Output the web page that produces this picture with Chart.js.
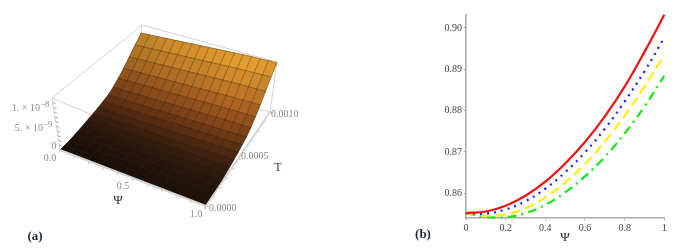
<!DOCTYPE html>
<html>
<head>
<meta charset="utf-8">
<script src="https://cdn.jsdelivr.net/npm/chart.js@4"></script>
<style>
  body { margin: 0; background: #fff; }
  canvas { position: absolute; top: 0; filter: blur(0.35px); }
  #surface { left: 0; }
  #curves { left: 400px; }
</style>
</head>
<body>
<canvas id="surface" width="340" height="248"></canvas>
<canvas id="curves" width="279" height="248"></canvas>
<script>
// panel (b) values
const psiValues = [0, 0.1, 0.2, 0.3, 0.4, 0.5, 0.6, 0.7, 0.8, 0.9, 1];
const redValues = [0.8552, 0.8556, 0.8570, 0.8594, 0.8628, 0.8672, 0.8724, 0.8786, 0.8858, 0.8942, 0.9032];
const blueValues = [0.8552, 0.8551, 0.8561, 0.8581, 0.8611, 0.8651, 0.8699, 0.8756, 0.8822, 0.8895, 0.8977];
const yellowValues = [0.8552, 0.8546, 0.8549, 0.8564, 0.8590, 0.8626, 0.8671, 0.8725, 0.8788, 0.8858, 0.8935];
const greenValues = [0.8552, 0.8543, 0.8542, 0.8552, 0.8572, 0.8602, 0.8641, 0.8688, 0.8745, 0.8810, 0.8884];
const curveYTicks = [0.86, 0.87, 0.88, 0.89, 0.90];
const curveXTicks = [0, 0.2, 0.4, 0.6, 0.8, 1];

// panel (a) surface, z in units of 1e-8
const psiGrid = [0, 0.0625, 0.125, 0.1875, 0.25, 0.3125, 0.375, 0.4375, 0.5, 0.5625, 0.625, 0.6875, 0.75, 0.8125, 0.875, 0.9375, 1];
const tGrid = [0, 0.0000625, 0.000125, 0.0001875, 0.00025, 0.0003125, 0.000375, 0.0004375, 0.0005, 0.0005625, 0.000625, 0.0006875, 0.00075, 0.0008125, 0.000875, 0.0009375, 0.001];
const zByT = [0, 0.004, 0.012, 0.024, 0.045, 0.07, 0.095, 0.12, 0.15, 0.19, 0.23, 0.31, 0.42, 0.55, 0.72, 0.9, 1.08];
const zByPsi = [0.86, 0.87, 0.88, 0.89, 0.9, 0.91, 0.92, 0.93, 0.94, 0.95, 0.96, 0.97, 0.98, 0.99, 0.99, 1, 1];
const rowColors = [[28, 16, 7], [30, 17, 8], [34, 19, 10], [38, 21, 11], [44, 24, 12], [52, 28, 13], [62, 33, 14], [74, 39, 16], [90, 46, 18], [108, 55, 20], [126, 66, 24], [146, 80, 28], [166, 96, 32], [186, 116, 37], [204, 134, 42], [220, 150, 46]];
const colShade = [0.86, 0.88, 0.9, 0.92, 0.94, 0.95, 0.96, 0.97, 0.98, 1, 1.01, 1.03, 1.04, 1.04, 1.02, 1];
const psiTicks = [0, 0.1, 0.2, 0.3, 0.4, 0.5, 0.6, 0.7, 0.8, 0.9, 1];
const tTicks = [0, 0.0001, 0.0002, 0.0003, 0.0004, 0.0005, 0.0006, 0.0007, 0.0008, 0.0009, 0.001];
const zTicks = [0, 0.1, 0.2, 0.3, 0.4, 0.5, 0.6, 0.7, 0.8, 0.9, 1];
const zMax = 1.1;
const tMax = 0.001;

// box corners on the page, [psi][T][z]
const corners = {
  "000": [60, 150], "100": [206, 206], "010": [137, 77], "110": [270, 112],
  "001": [52, 98], "101": [199, 160], "011": [142, 25], "111": [277, 62]
};

function proyectar(psi, t, z) {
  const u = t / tMax, w = z / zMax;
  const punto = { x: 0, y: 0 };
  for (const k in corners) {
    const peso = (k[0] === "1" ? psi : 1 - psi) * (k[1] === "1" ? u : 1 - u) * (k[2] === "1" ? w : 1 - w);
    punto.x += peso * corners[k][0];
    punto.y += peso * corners[k][1];
  }
  return punto;
}

function alturaZ(i, j) {
  return zByT[j] * zByPsi[i];
}

function colorCelda(i, j) {
  const c = rowColors[j].map(v => Math.min(255, Math.round(v * colShade[i])));
  return `rgb(${c[0]},${c[1]},${c[2]})`;
}

function lineaDataset(puntos, color, ancho) {
  return { data: puntos, borderColor: color, borderWidth: ancho, pointRadius: 0, fill: false, tension: 0 };
}

const surfaceDatasets = [];

// front axis edges first so they stay on top
surfaceDatasets.push(lineaDataset([proyectar(0, 0, 0), proyectar(1, 0, 0)], "#d4d4d4", 2));
surfaceDatasets.push(lineaDataset([proyectar(1, 0, 0), proyectar(1, tMax, 0)], "#d4d4d4", 2));

// mesh
tGrid.forEach((t, j) => {
  surfaceDatasets.push(lineaDataset(psiGrid.map((p, i) => proyectar(p, t, alturaZ(i, j))), "rgba(25,12,4,0.4)", 0.8));
});
psiGrid.forEach((p, i) => {
  surfaceDatasets.push(lineaDataset(tGrid.map((t, j) => proyectar(p, t, alturaZ(i, j))), "rgba(25,12,4,0.4)", 0.8));
});

// surface cells
for (let j = 0; j < tGrid.length - 1; j++) {
  for (let i = 0; i < psiGrid.length - 1; i++) {
    const celda = [
      proyectar(psiGrid[i], tGrid[j], alturaZ(i, j)),
      proyectar(psiGrid[i + 1], tGrid[j], alturaZ(i + 1, j)),
      proyectar(psiGrid[i + 1], tGrid[j + 1], alturaZ(i + 1, j + 1)),
      proyectar(psiGrid[i], tGrid[j + 1], alturaZ(i, j + 1)),
      proyectar(psiGrid[i], tGrid[j], alturaZ(i, j))
    ];
    const color = colorCelda(i, j);
    surfaceDatasets.push({
      data: celda, borderColor: color, backgroundColor: color,
      borderWidth: 0.6, pointRadius: 0, fill: "shape", tension: 0
    });
  }
}

// tick marks
psiTicks.forEach(p => {
  const a = proyectar(p, 0, 0);
  surfaceDatasets.push(lineaDataset([a, { x: a.x - 1, y: a.y + 3 }], "#c4c4c4", 1));
});
tTicks.forEach(t => {
  const a = proyectar(1, t, 0);
  surfaceDatasets.push(lineaDataset([a, { x: a.x + 3, y: a.y + 1 }], "#c4c4c4", 1));
});
zTicks.forEach(z => {
  const a = proyectar(0, 0, z);
  surfaceDatasets.push(lineaDataset([a, { x: a.x + 3, y: a.y + 1 }], "#aaaaaa", 1));
});

// box edges behind the surface
const aristas = [
  [[0, 0, 0], [0, 0, zMax]], [[0, 0, zMax], [1, 0, zMax]], [[0, 0, zMax], [0, tMax, zMax]],
  [[0, tMax, zMax], [1, tMax, zMax]], [[1, tMax, zMax], [1, tMax, 0]], [[1, tMax, 0], [0, tMax, 0]],
  [[1, 0, zMax], [1, tMax, zMax]], [[0, tMax, zMax], [0, tMax, 0]]
];
aristas.forEach(a => {
  surfaceDatasets.push(lineaDataset([proyectar(...a[0]), proyectar(...a[1])], "#d2d2d2", 1));
});

const textoSuperficie = {
  id: "textoSuperficie",
  afterDraw(chart) {
    const ctx = chart.ctx;
    const escribir = (texto, x, y, align, font, color) => {
      ctx.font = font;
      ctx.fillStyle = color;
      ctx.textAlign = align;
      ctx.textBaseline = "middle";
      ctx.fillText(texto, x, y);
    };
    const fuente = "10px 'Liberation Serif'";
    const fuenteExp = "9px 'Liberation Serif'";
    ctx.save();
    [[0, "0.0"], [0.5, "0.5"], [1, "1.0"]].forEach(([p, texto]) => {
      const a = proyectar(p, 0, 0);
      escribir(texto, a.x - 10, a.y + 8, "center", fuente, "#8a8a8a");
    });
    [[0, "0.0000", 3, 2], [0.0005, "0.0005", 3, -3], [0.001, "0.0010", 1, 2]].forEach(([t, texto, dx, dy]) => {
      const a = proyectar(1, t, 0);
      escribir(texto, a.x + dx, a.y + dy, "left", fuente, "#8a8a8a");
    });
    escribir("0", 54, 146, "center", fuente, "#8a8a8a");
    escribir("5. × 10", 43, 128, "right", fuente, "#8a8a8a");
    escribir("−9", 43, 125, "left", fuenteExp, "#8a8a8a");
    escribir("1. × 10", 40, 108, "right", fuente, "#8a8a8a");
    escribir("−8", 40, 105, "left", fuenteExp, "#8a8a8a");
    escribir("Ψ", 118, 201, "center", "13px 'Liberation Serif'", "#2b2b3a");
    escribir("T", 278, 168, "center", "12px 'Liberation Serif'", "#2a3a55");
    escribir("(a)", 35, 237, "center", "bold 13px 'Liberation Serif'", "#1c2a3a");
    ctx.restore();
  }
};

new Chart("surface", {
  type: "line",
  data: { datasets: surfaceDatasets },
  options: {
    responsive: false,
    animation: false,
    layout: { padding: 0 },
    plugins: { legend: { display: false }, tooltip: { enabled: false } },
    scales: {
      x: { type: "linear", display: false, min: 0, max: 340 },
      y: { type: "linear", display: false, min: 0, max: 248, reverse: true }
    }
  },
  plugins: [textoSuperficie]
});

const textoCurvas = {
  id: "textoCurvas",
  afterDraw(chart) {
    const ctx = chart.ctx;
    ctx.save();
    ctx.font = "bold 13px 'Liberation Serif'";
    ctx.fillStyle = "#1c2a3a";
    ctx.textAlign = "center";
    ctx.textBaseline = "middle";
    ctx.fillText("(b)", 23, 235);
    ctx.restore();
  }
};

function serie(valores, color, ancho, dash) {
  return {
    data: valores, borderColor: color, borderWidth: ancho, borderDash: dash,
    pointRadius: 0, fill: false, tension: 0.4, clip: false
  };
}

new Chart("curves", {
  type: "line",
  data: {
    datasets: [
      serie(psiValues.map((x, i) => ({ x, y: redValues[i] })), "#f01010", 2.2, []),
      serie(psiValues.map((x, i) => ({ x, y: blueValues[i] })), "#1a1aff", 2.2, [2, 5]),
      serie(psiValues.map((x, i) => ({ x, y: yellowValues[i] })), "#ffee10", 2.2, [10, 5]),
      serie(psiValues.map((x, i) => ({ x, y: greenValues[i] })), "#12e812", 2.2, [9, 5, 2, 5])
    ]
  },
  options: {
    responsive: false,
    animation: false,
    layout: { padding: { top: 14.7, right: 14.7, left: 0, bottom: 0 } },
    plugins: { legend: { display: false }, tooltip: { enabled: false } },
    scales: {
      x: {
        type: "linear", min: 0, max: 1,
        afterBuildTicks: s => { s.ticks = curveXTicks.map(value => ({ value })); },
        afterFit: s => { s.height = 29.7; },
        grid: { drawOnChartArea: false, tickLength: 2, color: "#aaa" },
        border: { color: "#aaa", width: 1.6 },
        ticks: { color: "#444", font: { family: "'Liberation Serif'", size: 10 }, padding: 2, maxRotation: 0, callback: v => String(v) },
        title: { display: true, text: "Ψ", color: "#2b2b3a", font: { family: "'Liberation Serif'", size: 13 }, padding: { top: 0, bottom: 3 } }
      },
      y: {
        type: "linear", min: 0.85395, max: 0.9032,
        afterBuildTicks: s => { s.ticks = curveYTicks.map(value => ({ value })); },
        afterFit: s => { s.width = 66; },
        grid: { drawOnChartArea: false, tickLength: 2, color: "#aaa" },
        border: { color: "#aaa", width: 1.6 },
        ticks: { color: "#444", font: { family: "'Liberation Serif'", size: 10 }, padding: 2, callback: v => v.toFixed(2) }
      }
    }
  },
  plugins: [textoCurvas]
});
</script>
</body>
</html>
